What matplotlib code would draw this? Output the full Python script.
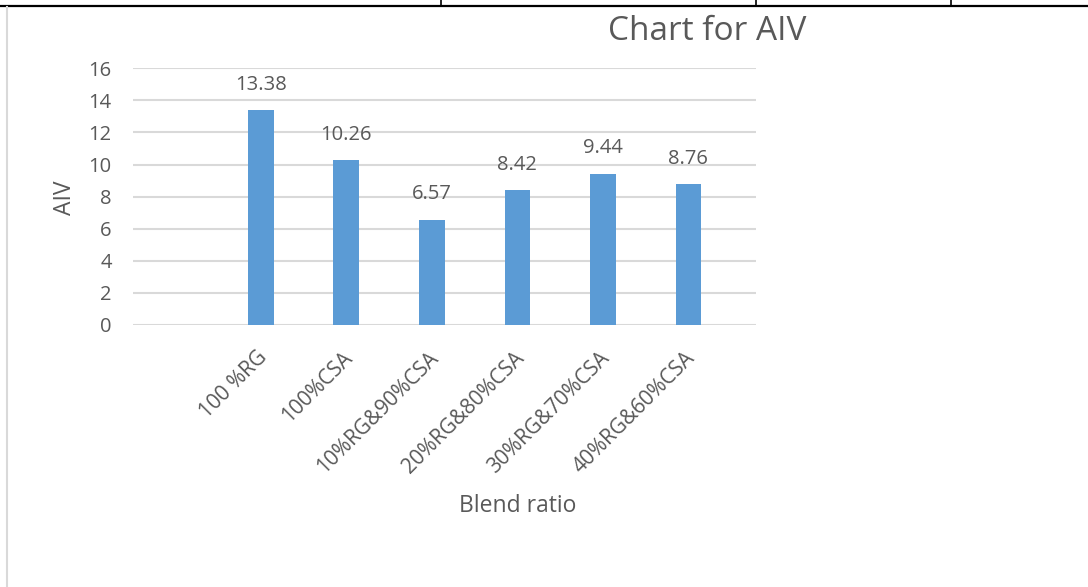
import matplotlib
matplotlib.use("Agg")
import matplotlib.pyplot as plt
from matplotlib.lines import Line2D
from matplotlib.transforms import ScaledTranslation

categories = ["", "100 %RG", "100%CSA", "10%RG&90%CSA", "20%RG&80%CSA",
              "30%RG&70%CSA", "40%RG&60%CSA"]
aiv_values = [0, 13.38, 10.26, 6.57, 8.42, 9.44, 8.76]
value_labels = ["", "13.38", "10.26", "6.57", "8.42", "9.44", "8.76"]
y_ticks = [0, 2, 4, 6, 8, 10, 12, 14, 16]

FONT = ["Open Sans", "DejaVu Sans"]
TEXT_COLOR = "#595959"
GRID_COLOR = "#D9D9D9"
BAR_COLOR = "#5B9BD5"

W, H = 1088, 587
fig = plt.figure(figsize=(W / 100, H / 100), dpi=100)
fig.patch.set_facecolor("white")

# page frame: top rule with cell dividers, and a faint left margin line
fig.add_artist(Line2D([0, 1], [1 - 5.5 / H, 1 - 5.5 / H], color="black", lw=1.6,
                      transform=fig.transFigure))
for xd in (440.5, 756, 951):
    fig.add_artist(Line2D([xd / W, xd / W], [1, 1 - 5.5 / H], color="black", lw=1.2,
                          transform=fig.transFigure))
fig.add_artist(Line2D([7 / W, 7 / W], [0, 1 - 7 / H], color="#D9D9D9", lw=1.5,
                      transform=fig.transFigure))

left, right = 132.5 / W, 756 / W
bottom, top = 1 - 325 / H, 1 - 68.3 / H
ax = fig.add_axes([left, bottom, right - left, top - bottom])

x = list(range(len(categories)))
bars = ax.bar(x, aiv_values, width=0.30, color=BAR_COLOR, zorder=3)

for xi, v, lab in zip(x, aiv_values, value_labels):
    if lab:
        ax.annotate(lab, (xi, v), xytext=(0, 11), textcoords="offset points",
                    ha="center", va="bottom", fontsize=14.5, color=TEXT_COLOR,
                    family=FONT)

ax.set_xlim(-0.5, 6.79)
ax.set_ylim(0, 16)
ax.set_yticks(y_ticks)
ax.set_yticklabels([str(t) for t in y_ticks], fontsize=14.5, color=TEXT_COLOR,
                   family=FONT)
ax.yaxis.grid(True, color=GRID_COLOR, lw=1.5, zorder=0)
ax.tick_params(axis="y", length=0, pad=15)
ax.tick_params(axis="x", length=0, pad=16)
ax.set_xticks(x)
ax.set_xticklabels(categories, rotation=45, ha="right", va="top",
                   rotation_mode="anchor", fontsize=15, color=TEXT_COLOR,
                   family=FONT)
shift = ScaledTranslation(-4 / 100, 0, fig.dpi_scale_trans)
for lab in ax.get_xticklabels():
    lab.set_transform(lab.get_transform() + shift)
for s in ax.spines.values():
    s.set_visible(False)

fig.text(65 / W, 1 - 198 / H, "AIV", rotation=90, ha="center", va="center",
         fontsize=16.5, color=TEXT_COLOR, family=FONT)
fig.text(518 / W, 1 - 506 / H, "Blend ratio", ha="center", va="center",
         fontsize=16.5, color=TEXT_COLOR, family=FONT)
fig.text(707 / W, 1 - 32 / H, "Chart for AIV", ha="center", va="center",
         fontsize=24, color=TEXT_COLOR, family=FONT)

fig.savefig("out.png", dpi=100)
